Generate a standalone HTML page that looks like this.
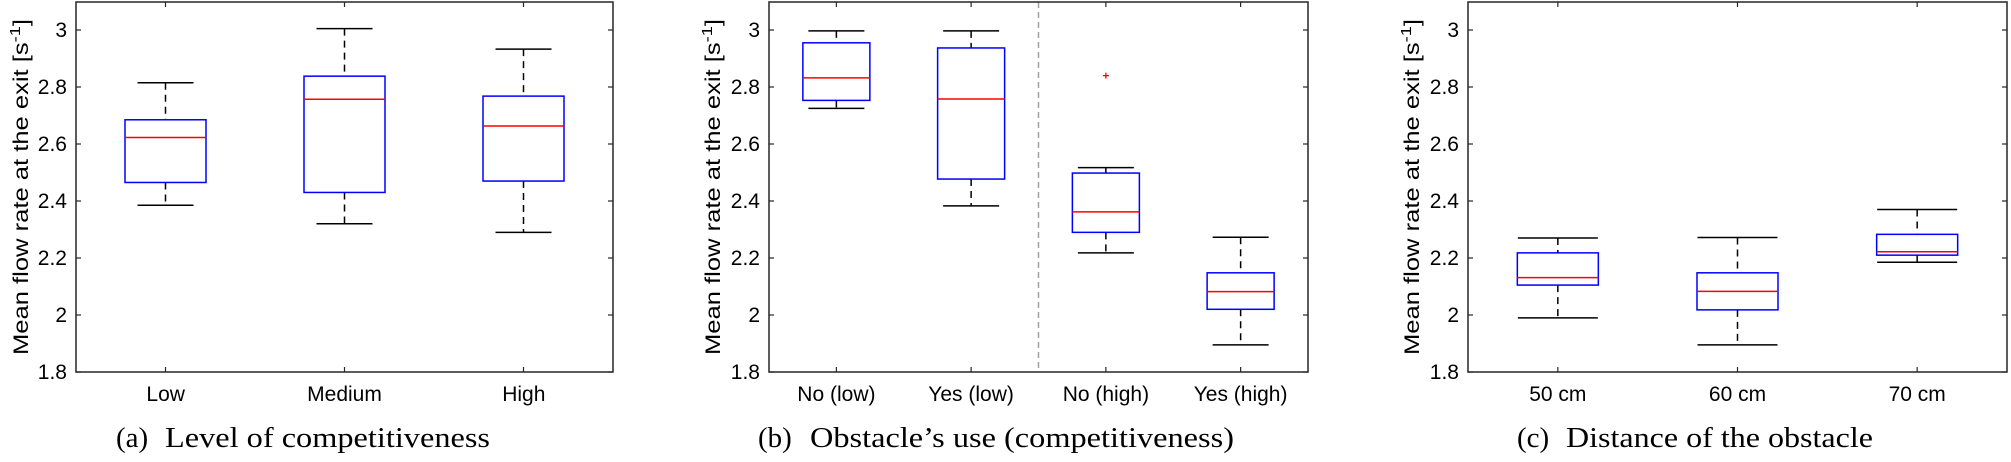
<!DOCTYPE html>
<html><head><meta charset="utf-8"><style>
html,body{margin:0;padding:0;background:#fff;}
svg{display:block;}
.t{font-family:"Liberation Sans",sans-serif;font-size:21px;fill:#000;}
.cap{font-family:"Liberation Serif",serif;font-size:29px;fill:#000;}
</style></head><body>
<svg id="s" width="2011" height="462" viewBox="0 0 2011 462" xmlns="http://www.w3.org/2000/svg">
<g id="g"></g>
<!-- Y tick labels -->
<g class="t" text-anchor="end">
<text x="67" y="379">1.8</text><text x="67" y="322">2</text><text x="67" y="265">2.2</text><text x="67" y="208">2.4</text><text x="67" y="151">2.6</text><text x="67" y="94">2.8</text><text x="67" y="37">3</text>
<text x="760" y="379">1.8</text><text x="760" y="322">2</text><text x="760" y="265">2.2</text><text x="760" y="208">2.4</text><text x="760" y="151">2.6</text><text x="760" y="94">2.8</text><text x="760" y="37">3</text>
<text x="1459" y="379">1.8</text><text x="1459" y="322">2</text><text x="1459" y="265">2.2</text><text x="1459" y="208">2.4</text><text x="1459" y="151">2.6</text><text x="1459" y="94">2.8</text><text x="1459" y="37">3</text>
</g>
<!-- X tick labels -->
<g class="t" text-anchor="middle">
<text x="165.7" y="401">Low</text><text x="344.5" y="401">Medium</text><text x="523.8" y="401">High</text>
<text x="836.4" y="401">No (low)</text><text x="971.1" y="401">Yes (low)</text><text x="1105.9" y="401">No (high)</text><text x="1240.6" y="401">Yes (high)</text>
<text x="1557.8" y="401">50 cm</text><text x="1737.5" y="401">60 cm</text><text x="1917.2" y="401">70 cm</text>
</g>
<!-- Y labels -->
<g class="t">
<text transform="translate(28,187) rotate(-90)" text-anchor="middle" textLength="336" lengthAdjust="spacingAndGlyphs">Mean flow rate at the exit [s<tspan dy="-8" font-size="15">-1</tspan><tspan dy="8">]</tspan></text>
<text transform="translate(720,187) rotate(-90)" text-anchor="middle" textLength="336" lengthAdjust="spacingAndGlyphs">Mean flow rate at the exit [s<tspan dy="-8" font-size="15">-1</tspan><tspan dy="8">]</tspan></text>
<text transform="translate(1419,187) rotate(-90)" text-anchor="middle" textLength="336" lengthAdjust="spacingAndGlyphs">Mean flow rate at the exit [s<tspan dy="-8" font-size="15">-1</tspan><tspan dy="8">]</tspan></text>
</g>
<!-- Captions -->
<g class="cap">
<text x="116" y="447">(a)</text><text x="165" y="447" textLength="325" lengthAdjust="spacingAndGlyphs">Level of competitiveness</text>
<text x="758" y="447">(b)</text><text x="810" y="447" textLength="424" lengthAdjust="spacingAndGlyphs">Obstacle’s use (competitiveness)</text>
<text x="1517" y="447">(c)</text><text x="1566" y="447" textLength="307" lengthAdjust="spacingAndGlyphs">Distance of the obstacle</text>
</g>
</svg>
<script>
(function(){
var g=document.getElementById('g'),NS='http://www.w3.org/2000/svg';
function el(n,a){var e=document.createElementNS(NS,n);for(var k in a)e.setAttribute(k,a[k]);g.appendChild(e);return e;}
function Y(v){return 372-(v-1.8)*285;}
var top=2,bot=372;
var panels=[
 {l:76,r:613,bw:81,cw:28,d:[[2.385,2.465,2.623,2.685,2.815],[2.32,2.43,2.757,2.838,3.005],[2.29,2.47,2.663,2.768,2.933]]},
 {l:769,r:1308,bw:67,cw:28,d:[[2.725,2.753,2.832,2.955,2.997],[2.383,2.477,2.758,2.937,2.997],[2.218,2.29,2.362,2.498,2.517],[1.895,2.02,2.082,2.148,2.273]],div:true,out:[2,2.84]},
 {l:1468,r:2007,bw:81,cw:40,d:[[1.99,2.105,2.131,2.218,2.27],[1.895,2.018,2.083,2.148,2.272],[2.185,2.21,2.222,2.283,2.37]]}
];
panels.forEach(function(p){
 var n=p.d.length,w=p.r-p.l;
 if(p.div){var xm=p.l+w/2;el('line',{x1:xm,x2:xm,y1:top,y2:bot,stroke:'#a0a0a0','stroke-width':1.5,'stroke-dasharray':'6,4'});}
 p.d.forEach(function(b,i){
  var x=p.l+w*(2*i+1)/(2*n);
  el('line',{x1:x,x2:x,y1:Y(b[4]),y2:Y(b[3]),stroke:'#000','stroke-width':1.5,'stroke-dasharray':'7,5'});
  el('line',{x1:x,x2:x,y1:Y(b[1]),y2:Y(b[0]),stroke:'#000','stroke-width':1.5,'stroke-dasharray':'7,5'});
  el('line',{x1:x-p.cw,x2:x+p.cw,y1:Y(b[4]),y2:Y(b[4]),stroke:'#000','stroke-width':1.5});
  el('line',{x1:x-p.cw,x2:x+p.cw,y1:Y(b[0]),y2:Y(b[0]),stroke:'#000','stroke-width':1.5});
  el('rect',{x:x-p.bw/2,y:Y(b[3]),width:p.bw,height:Y(b[1])-Y(b[3]),fill:'none',stroke:'#0000ff','stroke-width':1.5});
  el('line',{x1:x-p.bw/2,x2:x+p.bw/2,y1:Y(b[2]),y2:Y(b[2]),stroke:'#ff0000','stroke-width':1.5});
  // x ticks
  el('line',{x1:x,x2:x,y1:bot,y2:bot-5,stroke:'#262626','stroke-width':1.2});
  el('line',{x1:x,x2:x,y1:top,y2:top+5,stroke:'#262626','stroke-width':1.2});
 });
 if(p.out){var xo=p.l+w*(2*p.out[0]+1)/(2*n),yo=Y(p.out[1]);
  el('path',{d:'M'+(xo-3)+','+yo+'h6M'+xo+','+(yo-3)+'v6',stroke:'#ff0000','stroke-width':1.3});}
 for(var v=1.8;v<3.05;v+=0.2){var y=Y(v);
  el('line',{x1:p.l,x2:p.l+5,y1:y,y2:y,stroke:'#262626','stroke-width':1.2});
  el('line',{x1:p.r,x2:p.r-5,y1:y,y2:y,stroke:'#262626','stroke-width':1.2});}
 el('rect',{x:p.l,y:top,width:w,height:bot-top,fill:'none',stroke:'#262626','stroke-width':1.5});
});
})();
</script>
</body></html>
